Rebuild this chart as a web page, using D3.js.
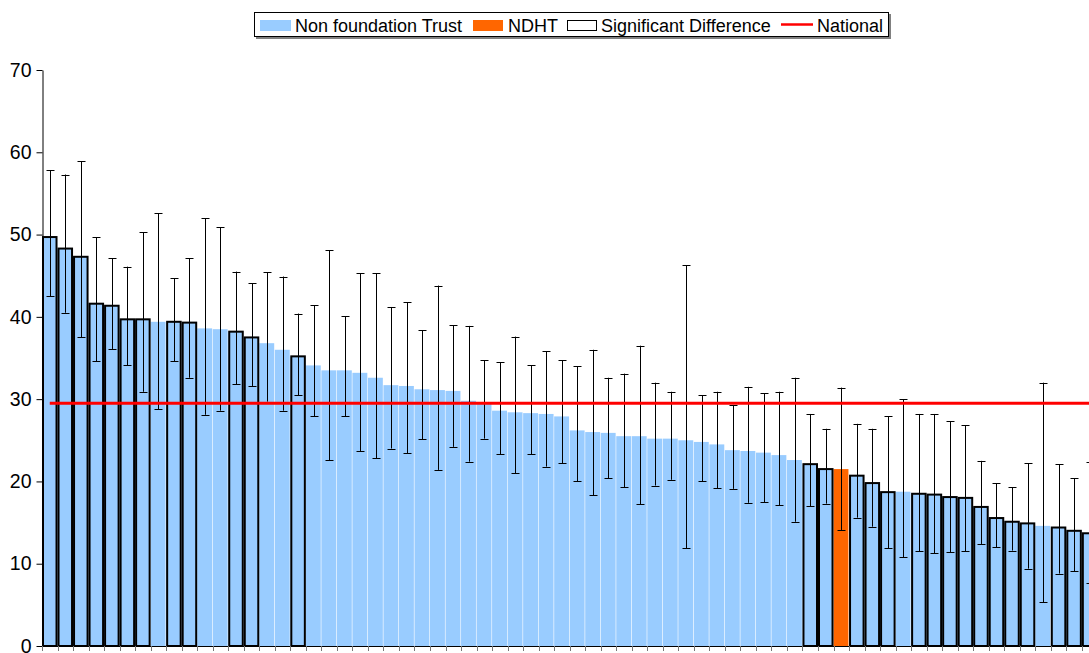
<!DOCTYPE html>
<html>
<head>
<meta charset="utf-8">
<script src="https://cdn.jsdelivr.net/npm/d3@7"></script>
<style>
  html, body { margin: 0; padding: 0; background: #fff; overflow: hidden; }
  svg { display: block; font-family: "Liberation Sans", Arial, sans-serif; }
</style>
</head>
<body>
<svg id="chart" width="1089" height="653"></svg>
<script>
// ---- data ----
const trusts = d3.range(68).map(i => "T" + (i + 1));
const values = [49.7, 48.3, 47.3, 41.6, 41.35, 39.7, 39.7, 39.4, 39.4, 39.3,
                38.6, 38.5, 38.2, 37.5, 36.8, 36.0, 35.2, 34.1, 33.5, 33.5,
                33.2, 32.6, 31.7, 31.6, 31.2, 31.1, 31.0, 29.8, 29.6, 28.6,
                28.4, 28.3, 28.2, 27.9, 26.2, 26.0, 25.9, 25.5, 25.5, 25.2,
                25.2, 25.0, 24.8, 24.5, 23.8, 23.7, 23.5, 23.2, 22.6, 22.1,
                21.5, 21.5, 20.7, 19.8, 18.7, 18.75, 18.5, 18.4, 18.1, 18.0,
                16.9, 15.55, 15.1, 14.9, 14.6, 14.4, 14.0, 13.7];
const upper = [57.8, 57.3, 58.9, 49.7, 47.1, 46.1, 50.3, 52.6, 44.7, 47.1,
               52.0, 50.9, 45.5, 44.1, 45.4, 44.9, 40.4, 41.4, 48.1, 40.1,
               45.3, 45.3, 41.2, 41.8, 38.4, 43.8, 39.0, 38.9, 34.7, 34.5,
               37.6, 34.1, 35.8, 34.7, 34.0, 36.0, 32.6, 33.1, 36.5, 32.0,
               30.9, 46.3, 30.5, 30.9, 29.3, 31.5, 30.7, 30.9, 32.6, 28.2,
               26.4, 31.4, 27.0, 26.4, 27.9, 30.0, 28.2, 28.2, 27.3, 26.8,
               22.5, 19.8, 19.3, 22.2, 32.0, 22.1, 20.4, 22.4];
const lower = [42.5, 40.5, 37.5, 34.6, 36.1, 34.1, 30.9, 28.8, 34.6, 32.6,
               28.1, 28.6, 31.8, 31.6, 29.7, 28.6, 30.5, 27.9, 22.6, 27.9,
               23.7, 22.8, 24.0, 23.4, 25.1, 21.4, 24.2, 22.4, 25.2, 23.3,
               21.0, 23.3, 21.8, 22.2, 20.0, 18.3, 20.4, 19.3, 17.2, 19.5,
               20.2, 11.9, 20.0, 19.2, 19.1, 17.4, 17.5, 17.1, 15.1, 17.0,
               17.3, 14.1, 15.6, 14.5, 11.9, 10.8, 11.5, 11.3, 11.4, 11.5,
               12.4, 12.0, 11.6, 9.4, 5.3, 8.8, 9.1, 7.7];
const significant = [1,1,1,1,1,1,1,0,1,1, 0,0,1,1,0,0,1,0,0,0,
                     0,0,0,0,0,0,0,0,0,0, 0,0,0,0,0,0,0,0,0,0,
                     0,0,0,0,0,0,0,0,0,1, 1,0,1,1,1,0,1,1,1,1,
                     1,1,1,1,0,1,1,1];
const ndhtIndex = 51;
const nationalValue = 29.5;
const yTicks = [0, 10, 20, 30, 40, 50, 60, 70];
const legendItems = ["Non foundation Trust", "NDHT", "Significant Difference", "National"];

// ---- colours ----
const blue = "#99CCFF", orange = "#FF6600", red = "#FF0000";

const svg = d3.select("#chart");

const x = d3.scaleBand().domain(trusts).range([42, 42 + 68 * 15.52]).padding(0);
const y = d3.scaleLinear().domain([0, 70]).range([646, 70]);

const data = trusts.map((t, i) => ({
  t, v: values[i], hi: upper[i], lo: lower[i],
  sig: significant[i] === 1, ndht: i === ndhtIndex
}));

// bars
svg.append("g").selectAll("rect.bar")
  .data(data).join("rect")
  .attr("class", "bar")
  .attr("x", d => x(d.t))
  .attr("width", x.bandwidth() - 0.6)
  .attr("y", d => y(d.v))
  .attr("height", d => y(0) - y(d.v))
  .attr("fill", d => d.ndht ? orange : blue);

// significant outlines
svg.append("g").selectAll("rect.sig")
  .data(data.filter(d => d.sig)).join("rect")
  .attr("class", "sig")
  .attr("x", d => x(d.t) + 1)
  .attr("width", x.bandwidth() - 2)
  .attr("y", d => y(d.v))
  .attr("height", d => y(0) - y(d.v))
  .attr("fill", blue)
  .attr("stroke", "#000")
  .attr("stroke-width", 2);

// error bars
const eb = svg.append("g").attr("stroke", "#000").attr("stroke-width", 1);
data.forEach(d => {
  const cx = Math.round(x(d.t) + x.bandwidth() / 2) + 0.5;
  eb.append("line").attr("x1", cx).attr("x2", cx).attr("y1", y(d.hi)).attr("y2", y(d.lo));
  eb.append("line").attr("x1", cx - 4).attr("x2", cx + 4).attr("y1", Math.round(y(d.hi)) + 0.5).attr("y2", Math.round(y(d.hi)) + 0.5);
  eb.append("line").attr("x1", cx - 4).attr("x2", cx + 4).attr("y1", Math.round(y(d.lo)) + 0.5).attr("y2", Math.round(y(d.lo)) + 0.5);
});

// national line
const line = d3.line().x(d => x(d.t) + x.bandwidth() / 2).y(() => y(nationalValue));
svg.append("path").datum(data)
  .attr("d", line)
  .attr("fill", "none")
  .attr("stroke", red)
  .attr("stroke-width", 3);

// y axis
const yAxis = d3.axisLeft(y).tickValues(yTicks).tickSize(6).tickPadding(5).tickSizeOuter(0);
const gy = svg.append("g").attr("transform", "translate(42.5,0)").call(yAxis);
gy.selectAll("text").attr("font-size", 19.5).attr("font-family", "Liberation Sans, Arial, sans-serif").attr("fill", "#000");
gy.selectAll("line, path").attr("stroke", "#000");

// x axis (ticks between bars, no labels)
const xb = svg.append("g");
xb.append("line").attr("x1", 42).attr("x2", 1089).attr("y1", 646.5).attr("y2", 646.5).attr("stroke", "#000");
xb.selectAll("line.tk").data(trusts).join("line")
  .attr("class", "tk")
  .attr("x1", d => Math.round(x(d)) + 0.5).attr("x2", d => Math.round(x(d)) + 0.5)
  .attr("y1", 646).attr("y2", 651).attr("stroke", "#777");

// legend
const lg = svg.append("g");
lg.append("rect").attr("x", 256).attr("y", 14).attr("width", 635).attr("height", 25).attr("fill", "#808080");
lg.append("rect").attr("x", 254.5).attr("y", 12.5).attr("width", 634).attr("height", 24).attr("fill", "#fff").attr("stroke", "#000");
const ty = 31.5;
const fs = 18;
lg.append("rect").attr("x", 260).attr("y", 20).attr("width", 31).attr("height", 11).attr("fill", blue);
lg.append("text").attr("x", 295).attr("y", ty).attr("font-size", fs).text(legendItems[0]);
lg.append("rect").attr("x", 473).attr("y", 20).attr("width", 30).attr("height", 11).attr("fill", orange);
lg.append("text").attr("x", 508).attr("y", ty).attr("font-size", fs).text(legendItems[1]);
lg.append("rect").attr("x", 567.5).attr("y", 20.5).attr("width", 29).attr("height", 10).attr("fill", "#fff").attr("stroke", "#000").attr("stroke-width", 1);
lg.append("text").attr("x", 601).attr("y", ty).attr("font-size", fs).text(legendItems[2]);
lg.append("line").attr("x1", 781).attr("x2", 813).attr("y1", 24.5).attr("y2", 24.5).attr("stroke", red).attr("stroke-width", 2.5);
lg.append("text").attr("x", 817).attr("y", ty).attr("font-size", fs).text(legendItems[3]);
</script>
</body>
</html>
